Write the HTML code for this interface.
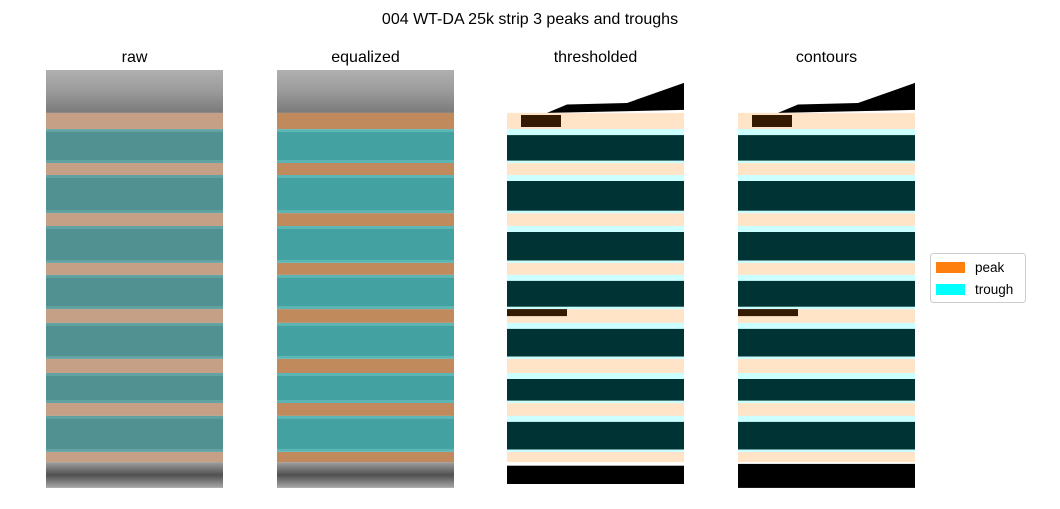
<!DOCTYPE html>
<html><head><meta charset="utf-8"><style>
body{margin:0;background:#fff;width:1060px;height:504px;overflow:hidden;font-family:"Liberation Sans","DejaVu Sans",sans-serif}
</style></head><body>
<svg id="fig" width="1060" height="504" viewBox="0 0 1060 504" xmlns="http://www.w3.org/2000/svg">
<defs>
<linearGradient id="grayTop" x1="0" y1="0" x2="0" y2="1"><stop offset="0" stop-color="#b0b0b0"/><stop offset="0.5" stop-color="#9a9a9a"/><stop offset="1" stop-color="#7a7a7a"/></linearGradient>
<linearGradient id="grayBot" x1="0" y1="0" x2="0" y2="1"><stop offset="0" stop-color="#a0a0a0"/><stop offset="0.5" stop-color="#505050"/><stop offset="1" stop-color="#a8a8a8"/></linearGradient>
</defs>
<text x="530" y="24" font-size="16" text-anchor="middle" fill="#000">004 WT-DA 25k strip 3 peaks and troughs</text>
<g id="panels"></g>
<g>
<rect x="930.5" y="253.5" width="95" height="49" rx="3" fill="#fff" stroke="#ccc"/>
<rect x="936" y="262" width="29" height="11" fill="#ff7f0e"/>
<text x="975" y="272" font-size="13.5" fill="#000">peak</text>
<rect x="936" y="284" width="29" height="11" fill="#00ffff"/>
<text x="975" y="294" font-size="13.5" fill="#000">trough</text>
</g>
</svg>
<script>
// image rows (image units, 0..139.3), 3px per row
const peakBands=[[14.3,19.7],[31,35],[47.7,52],[64.3,68.3],[79.7,84.3],[96.3,101],[111,115.3],[127.3,130.7]];
const troughBands=[[19.7,31],[35,47.7],[52,64.3],[68.3,79.7],[84.3,96.3],[101,111],[115.3,127.3]];
const panelTitles=["raw","equalized","thresholded","contours"];
const panelX=[46,277,507,738];
const W=177,Y0=70,RS=3,ROWS=139.3;
const ys=r=>Y0+r*RS;
const NS="http://www.w3.org/2000/svg";
const root=document.getElementById('panels');
function mk(tag,at,parent){const e=document.createElementNS(NS,tag);for(const k in at)e.setAttribute(k,at[k]);(parent||root).appendChild(e);return e;}
const styles=[
 {peak:"#c6a086",trough:"#4a8a8a",troughLight:"#62a2a2",top:"url(#grayTop)",bot:"url(#grayBot)"},
 {peak:"#c08a5c",trough:"#3a9898",troughLight:"#5cb6b6",top:"url(#grayTop)",bot:"url(#grayBot)"},
 {peak:"#ffe4c8",trough:"#003333",troughLight:"#ccffff",top:"#fff",bot:"#fff"},
 {peak:"#ffe4c8",trough:"#003333",troughLight:"#ccffff",top:"#fff",bot:"#fff"}];
panelTitles.forEach((t,i)=>{
 const g=mk('g',{});
 
 
 const x=panelX[i],s=styles[i];
 const title=mk('text',{x:x+W/2,y:62,'font-size':16,'text-anchor':'middle',fill:'#000'},g);
 title.textContent=t;
 
 
 const top=mk('rect',{x:x,y:ys(0),width:W,height:ys(peakBands[0][0])-ys(0),fill:s.top},g);
 
 
 const lastEnd=peakBands[peakBands.length-1][1];
 const bot=mk('rect',{x:x,y:ys(lastEnd),width:W,height:ys(ROWS)-ys(lastEnd),fill:s.bot},g);
 
 
 peakBands.forEach(b=>{
  const r=mk('rect',{x:x,y:ys(b[0]),width:W,height:ys(b[1])-ys(b[0]),fill:s.peak},g);
  
  
 });
 troughBands.forEach(b=>{
  const r=mk('rect',{x:x,y:ys(b[0]),width:W,height:ys(b[1])-ys(b[0]),fill:s.troughLight},g);
  
  
  const inT=i>=2?2:1, inB=i>=2?0.8:1;
  const d=mk('rect',{x:x,y:ys(b[0]+inT),width:W,height:ys(b[1]-inB)-ys(b[0]+inT),fill:s.trough,opacity:i>=2?1:0.7},g);
  
  
 });
 if(i>=2){
  const blk=mk('polygon',{points:`${x+40},${ys(peakBands[0][0])} ${x+60},${ys(11.5)} ${x+120},${ys(11)} ${x+177},${ys(4.3)} ${x+177},${ys(peakBands[0][0])-3}`,fill:'#000'},g);
  
  
  const bb=mk('rect',{x:x,y:ys(lastEnd+(i===2?1.2:0.6)),width:W,height:i===2?ys(ROWS-1.3)-ys(lastEnd+1.2):ys(ROWS)-ys(lastEnd+0.6),fill:'#000'},g);
  
  
  const br=mk('rect',{x:x+14,y:ys(peakBands[0][0]+0.7),width:40,height:12,fill:'#331a00'},g);
  
  
  const br2=mk('rect',{x:x,y:ys(peakBands[4][0]),width:60,height:7,fill:'#331a00'},g);
  
  
 }
});
</script>
</body></html>
